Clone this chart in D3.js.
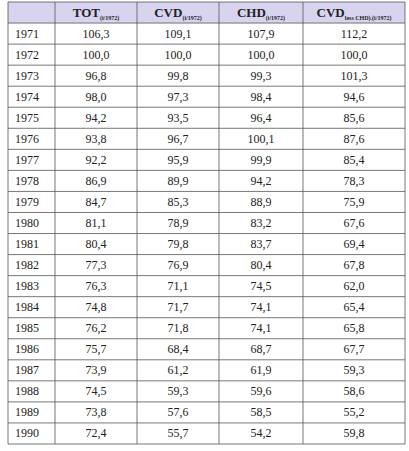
<!doctype html>
<html><head><meta charset="utf-8">
<script src="https://cdn.jsdelivr.net/npm/d3@7"></script>
<style>body{margin:0;background:#fff}</style></head>
<body><svg width="409" height="451"></svg>
<script>
var years = d3.range(1971, 1991);
var tot = ["106,3","100,0","96,8","98,0","94,2","93,8","92,2","86,9","84,7","81,1","80,4","77,3","76,3","74,8","76,2","75,7","73,9","74,5","73,8","72,4"];
var cvd = ["109,1","100,0","99,8","97,3","93,5","96,7","95,9","89,9","85,3","78,9","79,8","76,9","71,1","71,7","71,8","68,4","61,2","59,3","57,6","55,7"];
var chd = ["107,9","100,0","99,3","98,4","96,4","100,1","99,9","94,2","88,9","83,2","83,7","80,4","74,5","74,1","74,1","68,7","61,9","59,6","58,5","54,2"];
var cvdLess = ["112,2","100,0","101,3","94,6","85,6","87,6","85,4","78,3","75,9","67,6","69,4","67,8","62,0","65,4","65,8","67,7","59,3","58,6","55,2","59,8"];
var headers = [["",""],["TOT","(i/1972)"],["CVD","(i/1972)"],["CHD","(i/1972)"],["CVD","less CHD).(i/1972)"]];
var colEdges = [8, 55, 137, 219, 303, 405];

var svg = d3.select("svg");
var font = "Liberation Serif, serif";
var rows = years.map(function (y, i) { return [String(y), tot[i], cvd[i], chd[i], cvdLess[i]]; });
var y = d3.scaleLinear().domain([0, 21]).range([2, 444]);
var rh = y(1) - y(0);

svg.append("rect").attr("x", colEdges[0]).attr("y", y(0)).attr("width", colEdges[5] - colEdges[0])
    .attr("height", rh).attr("fill", "#d8d3ee");

// grid lines
d3.range(22).forEach(function (i) {
    svg.append("line").attr("x1", colEdges[0]).attr("x2", colEdges[5]).attr("y1", y(i)).attr("y2", y(i))
        .attr("stroke", "#555").attr("stroke-width", 0.8);
});
colEdges.forEach(function (x) {
    svg.append("line").attr("x1", x).attr("x2", x).attr("y1", y(0)).attr("y2", y(21))
        .attr("stroke", "#555").attr("stroke-width", 0.8);
});

// header
headers.forEach(function (h, c) {
    if (!h[0]) return;
    var t = svg.append("text").attr("x", (colEdges[c] + colEdges[c + 1]) / 2).attr("y", y(0) + rh / 2 + 4)
        .attr("text-anchor", "middle").attr("font-family", font).attr("font-weight", "bold").attr("fill", "#222");
    t.append("tspan").attr("font-size", 13).text(h[0]);
    t.append("tspan").attr("font-size", 6).attr("dy", 3).text(h[1]);
});

// body
rows.forEach(function (r, i) {
    r.forEach(function (v, c) {
        svg.append("text")
            .attr("x", c === 0 ? colEdges[0] + 7 : (colEdges[c] + colEdges[c + 1]) / 2)
            .attr("y", y(i + 1) + rh / 2 + 4)
            .attr("text-anchor", c === 0 ? "start" : "middle")
            .attr("font-family", font).attr("font-size", 12).attr("fill", "#222").text(v);
    });
});
</script></body></html>
